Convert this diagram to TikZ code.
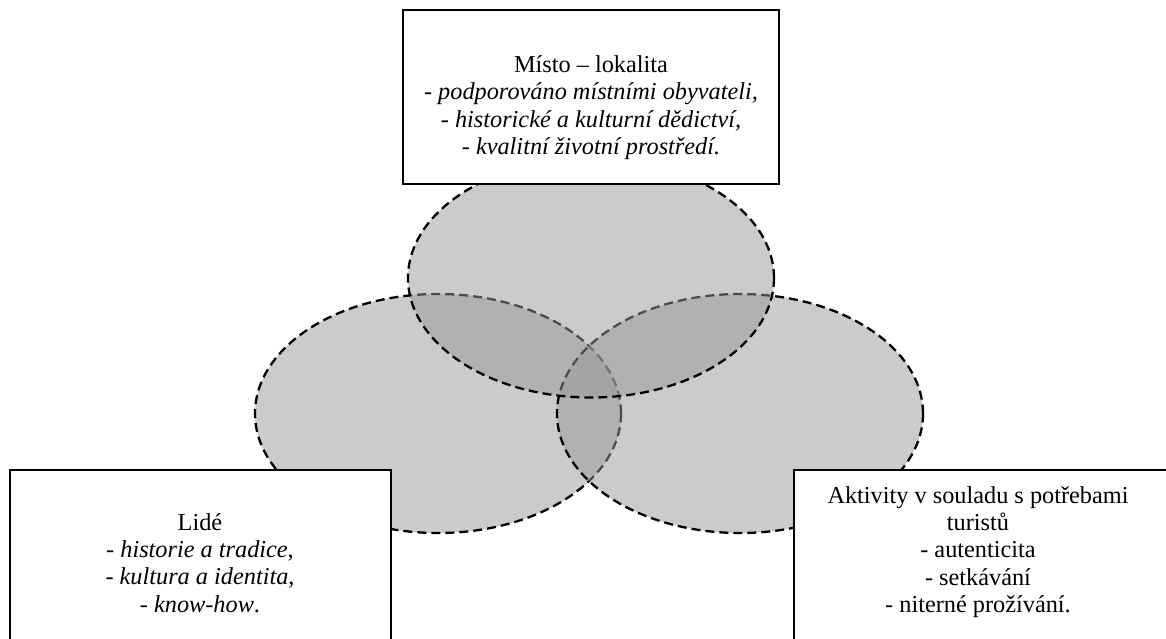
\documentclass[tikz,border=0pt]{standalone}
\usepackage{fontspec}
\setmainfont{Liberation Serif}
\usetikzlibrary{shapes.geometric}
\begin{document}
\begin{tikzpicture}[x=1pt,y=-1pt,
  blob/.style={ellipse,draw=black,fill=black!40,fill opacity=0.5,draw opacity=1,
    line width=2.3pt,dash pattern=on 9pt off 5pt,minimum width=366pt,minimum height=239pt,inner sep=0pt},
  panel/.style={rectangle,draw=black,fill=white,line width=1.9pt,inner sep=0pt},
  txt/.style={align=center,font=\fontsize{24.3}{27.4}\selectfont,inner sep=0pt}]
\clip (0,0) rectangle (1166,638);
\fill[white] (0,0) rectangle (1166,638);
% ellipses
\node[blob] (eL) at (438,413.5) {};
\node[blob] (eR) at (740,413.5) {};
\node[blob] (eT) at (591,278) {};
% boxes
\node[panel,minimum width=376pt,minimum height=174pt] (bT) at (591,97) {};
\node[panel,minimum width=381pt,minimum height=200pt] (bL) at (200.5,570) {};
\node[panel,minimum width=376pt,minimum height=200pt] (bR) at (982,570) {};
% texts
\node[txt] (tT) at (591,107.5) {Místo – lokalita\\\textit{- podporováno místními obyvateli,}\\\textit{- historické a kulturní dědictví,}\\\textit{- kvalitní životní prostředí.}};
\node[txt] (tL) at (200,563) {Lidé\\- \textit{historie a tradice},\\- \textit{kultura a identita},\\- \textit{know-how}.};
\node[txt] (tR) at (978,552) {Aktivity v souladu s potřebami\\turistů\\- autenticita\\- setkávání\\- niterné prožívání.};
\end{tikzpicture}
\end{document}
